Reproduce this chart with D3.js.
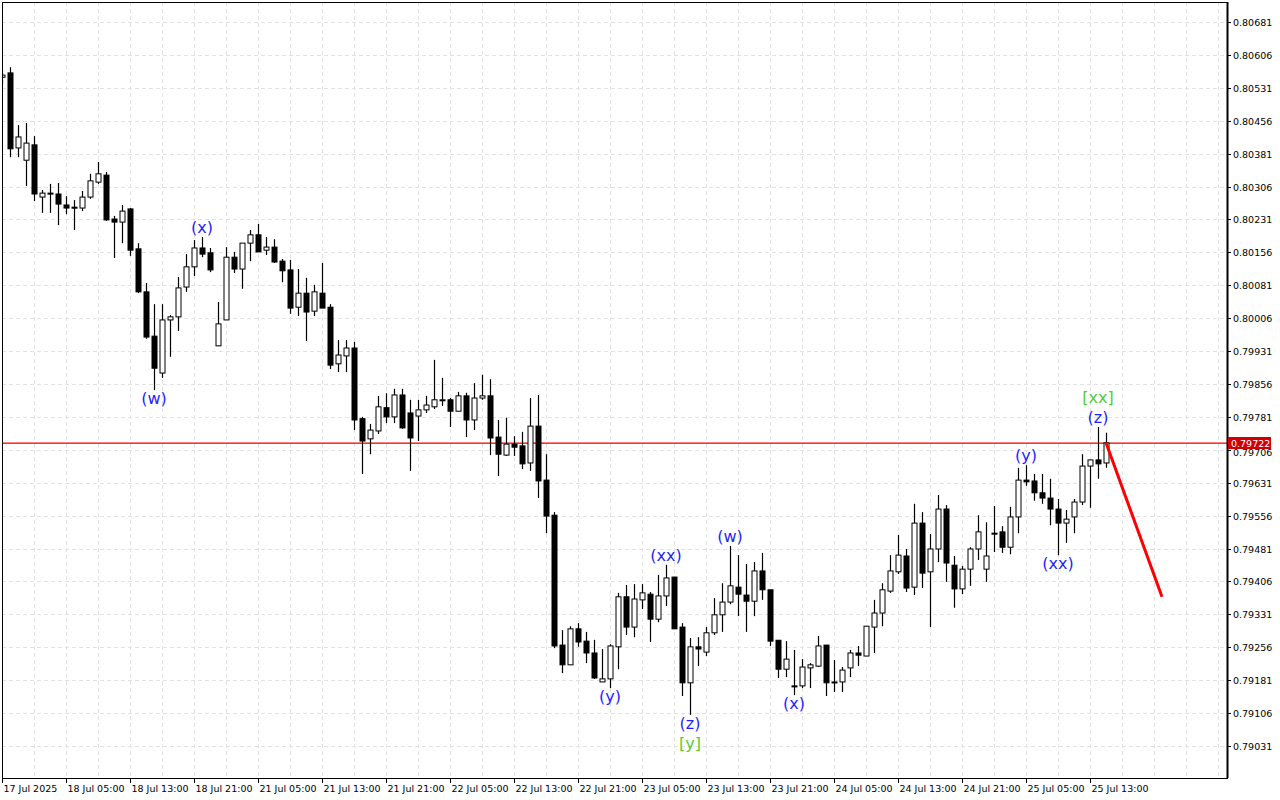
<!DOCTYPE html>
<html><head><meta charset="utf-8">
<script src="https://cdn.jsdelivr.net/npm/d3@7/dist/d3.min.js"></script>
<style>body{margin:0;background:#fff}svg{display:block}text{font-family:"DejaVu Sans",sans-serif}</style>
</head><body><svg id="c" width="1280" height="800"></svg>
<script>
// prices in 1e-5 units (points)
const openP=[80555,80565,80394,80366,80401,80282,80289,80289,80264,80259,80257,80282,80316,80332,80232,80225,80255,80164,80066,79965,79881,80002,80009,80077,80123,80166,80155,79943,80002,80145,80118,80177,80196,80161,80168,80136,80116,80031,80063,80022,80063,80031,79902,79920,79938,79777,79731,79749,79802,79781,79831,79790,79783,79797,79804,79820,79820,79794,79829,79774,79824,79829,79735,79694,79719,79715,79676,79760,79637,79557,79261,79216,79298,79270,79243,79177,79184,79257,79371,79302,79364,79377,79320,79373,79416,79302,79175,79257,79245,79289,79330,79359,79393,79375,79361,79430,79387,79272,79206,79168,79168,79209,79213,79261,79177,79177,79209,79243,79236,79302,79334,79384,79428,79464,79393,79539,79428,79480,79571,79443,79389,79434,79480,79434,79516,79519,79484,79553,79637,79635,79608,79596,79571,79539,79553,79587,79669,79683,79676];
const highP=[80570,80578,80446,80451,80421,80298,80312,80314,80284,80275,80296,80335,80362,80339,80239,80264,80257,80177,80086,80038,80038,80013,80100,80152,80184,80191,80166,80043,80168,80157,80161,80207,80221,80191,80186,80141,80139,80118,80098,80082,80132,80038,79956,79956,79952,79781,79765,79829,79835,79845,79845,79820,79820,79829,79911,79870,79824,79838,79836,79858,79877,79867,79774,79779,79737,79747,79824,79831,79696,79564,79295,79304,79311,79291,79273,79252,79263,79380,79398,79400,79400,79382,79421,79444,79416,79311,79277,79279,79302,79368,79402,79487,79466,79446,79450,79471,79387,79272,79270,79250,79229,79220,79282,79261,79227,79211,79250,79259,79304,79364,79402,79466,79512,79480,79583,79564,79514,79603,79580,79464,79441,79484,79557,79541,79578,79532,79576,79665,79671,79651,79651,79640,79594,79569,79594,79696,79683,79758,79745];
const lowP=[80540,80373,80373,80307,80273,80246,80246,80218,80243,80207,80250,80278,80312,80228,80143,80177,80148,80063,79959,79842,79870,79918,79977,80066,80102,80145,80111,79943,80002,80109,80073,80136,80157,80150,80132,80088,80016,80011,79954,80011,80029,79890,79883,79883,79751,79651,79696,79742,79767,79767,79754,79658,79726,79790,79799,79806,79758,79794,79735,79751,79820,79694,79646,79692,79692,79662,79658,79596,79516,79254,79197,79216,79257,79220,79184,79177,79163,79206,79284,79279,79343,79268,79313,79350,79298,79145,79102,79213,79236,79284,79291,79354,79327,79291,79327,79364,79259,79186,79188,79147,79163,79163,79211,79145,79154,79154,79188,79213,79236,79243,79304,79380,79423,79382,79375,79391,79302,79450,79405,79346,79377,79396,79455,79405,79473,79471,79468,79516,79624,79590,79583,79534,79466,79494,79516,79580,79574,79640,79665];
const closeP=[80560,80392,80419,80405,80289,80291,80291,80266,80257,80257,80282,80319,80335,80230,80225,80250,80161,80066,79963,79892,80002,80009,80075,80123,80166,80152,80116,79993,80145,80118,80177,80196,80157,80168,80134,80114,80029,80063,80020,80066,80029,79899,79922,79938,79774,79726,79751,79804,79781,79831,79756,79733,79797,79808,79820,79820,79794,79829,79774,79824,79829,79733,79696,79719,79712,79674,79760,79635,79555,79259,79216,79298,79268,79243,79186,79184,79259,79371,79302,79366,79380,79320,79373,79414,79298,79175,79257,79252,79289,79330,79359,79396,79377,79361,79430,79387,79270,79206,79229,79166,79211,79216,79259,79175,79177,79204,79243,79238,79304,79334,79387,79430,79466,79391,79539,79425,79480,79571,79448,79389,79434,79480,79519,79464,79516,79484,79553,79637,79633,79608,79596,79571,79539,79548,79587,79669,79683,79674,79722];
const priceTicks=[0.79031,0.79106,0.79181,0.79256,0.79331,0.79406,0.79481,0.79556,0.79631,0.79706,0.79781,0.79856,0.79931,0.80006,0.80081,0.80156,0.80231,0.80306,0.80381,0.80456,0.80531,0.80606,0.80681];
const timeLabels=["17 Jul 2025","18 Jul 05:00","18 Jul 13:00","18 Jul 21:00","21 Jul 05:00","21 Jul 13:00","21 Jul 21:00","22 Jul 05:00","22 Jul 13:00","22 Jul 21:00","23 Jul 05:00","23 Jul 13:00","23 Jul 21:00","24 Jul 05:00","24 Jul 13:00","24 Jul 21:00","25 Jul 05:00","25 Jul 13:00"];
const currentPrice=0.79722;
const projIdx=[138,145], projPrice=[0.79722,0.79371];
const waveIdx=[19,25,76,83,86,91,99,128,132,137];
const waveText=["(w)","(x)","(y)","(xx)","(z)","(w)","(x)","(y)","(xx)","(z)"];
const wavePos=["below","above","below","above","below","above","below","above","below","above"];
const wave2Idx=[86,137], wave2Text=["[y]","[xx]"], wave2Pos=["below","above"];

(function(){
const O=openP.map(v=>v/1e5),H=highP.map(v=>v/1e5),L=lowP.map(v=>v/1e5),C=closeP.map(v=>v/1e5);
const svg=d3.select("#c");
const pl=2,pr=1227,pt=2,pb=778;
const x=d3.scaleLinear().domain([0,153.125]).range([pl,pr]);
const y=d3.scaleLinear().domain([0.79031,0.80681]).range([746,22]);
svg.append("rect").attr("width",1280).attr("height",800).attr("fill","#fff");
svg.append("clipPath").attr("id","clip").append("rect").attr("x",pl).attr("y",pt).attr("width",pr-pl).attr("height",pb-pt);
const g=svg.append("g");
for(let i=4;x(i)<pr;i+=4) g.append("line").attr("x1",Math.round(x(i))+.5).attr("x2",Math.round(x(i))+.5).attr("y1",pt).attr("y2",pb).attr("stroke","#e2e2e2").attr("stroke-dasharray","4,3");
priceTicks.forEach(p=>g.append("line").attr("x1",pl).attr("x2",pr).attr("y1",Math.round(y(p))+.5).attr("y2",Math.round(y(p))+.5).attr("stroke","#e2e2e2").attr("stroke-dasharray","4,3"));
g.append("rect").attr("x",pl).attr("y",Math.round(y(currentPrice))-0.5).attr("width",pr-pl).attr("height",1.3).attr("fill","#ff0000");
const cg=g.append("g").attr("clip-path","url(#clip)");
d3.range(C.length).forEach(i=>{
  const cx=Math.round(x(i))+.5;
  cg.append("line").attr("x1",cx).attr("x2",cx).attr("y1",y(H[i])).attr("y2",y(L[i])).attr("stroke","#000").attr("stroke-width",1.2);
  const t=Math.min(y(O[i]),y(C[i])),h=Math.max(1,Math.abs(y(O[i])-y(C[i])));
  const up=C[i]>=O[i];
  cg.append("rect").attr("x",cx-2.5).attr("y",t).attr("width",5).attr("height",h).attr("fill",up?"#fff":"#000").attr("stroke","#000").attr("stroke-width",1);
});
g.append("line").attr("x1",x(projIdx[0])).attr("y1",y(projPrice[0])).attr("x2",x(projIdx[1])).attr("y2",y(projPrice[1])).attr("stroke","#ff0000").attr("stroke-width",3);
function lab(i,t,pos,col,line){
  const yy=pos==="below"?y(L[i])+14+line*20:y(H[i])-4-line*20;
  g.append("text").attr("x",x(i)).attr("y",yy).attr("text-anchor","middle").attr("font-size",16).attr("fill",col).text(t);
}
waveIdx.forEach((i,k)=>lab(i,waveText[k],wavePos[k],"#1f1fff",0));
wave2Idx.forEach((i,k)=>lab(i,wave2Text[k],wave2Pos[k],"#55cc33",1));
svg.append("rect").attr("x",pl+.5).attr("y",pt+.5).attr("width",pr-pl).attr("height",pb-pt).attr("fill","none").attr("stroke","#000");
svg.append("line").attr("x1",pr+.5).attr("x2",pr+.5).attr("y1",pt).attr("y2",pb).attr("stroke","#000").attr("stroke-width",2);
const cy=Math.round(y(currentPrice));
priceTicks.forEach(p=>{
  const yy=Math.round(y(p))+.5;
  svg.append("line").attr("x1",pr).attr("x2",pr+4).attr("y1",yy).attr("y2",yy).attr("stroke","#000");
  if(Math.abs(yy-cy)>10) svg.append("text").attr("x",pr+6).attr("y",yy+3.5).attr("font-size",9.5).attr("fill","#000").text(p.toFixed(5));
  else svg.append("text").attr("x",pr+6).attr("y",cy+13).attr("font-size",9.5).attr("fill","#000").text(p.toFixed(5));
});
svg.append("rect").attr("x",pr+1).attr("y",cy-6).attr("width",43).attr("height",12).attr("fill","#d00000");
svg.append("text").attr("x",pr+4).attr("y",cy+3.5).attr("font-size",9.5).attr("fill","#fff").text(currentPrice.toFixed(5));
timeLabels.forEach((t,k)=>{
  const xx=Math.round(x(k*8))+.5;
  svg.append("line").attr("x1",xx).attr("x2",xx).attr("y1",pb).attr("y2",pb+5).attr("stroke","#000");
  svg.append("text").attr("x",xx+1).attr("y",792).attr("font-size",9.5).attr("fill","#000").text(t);
});
})();
</script></body></html>
